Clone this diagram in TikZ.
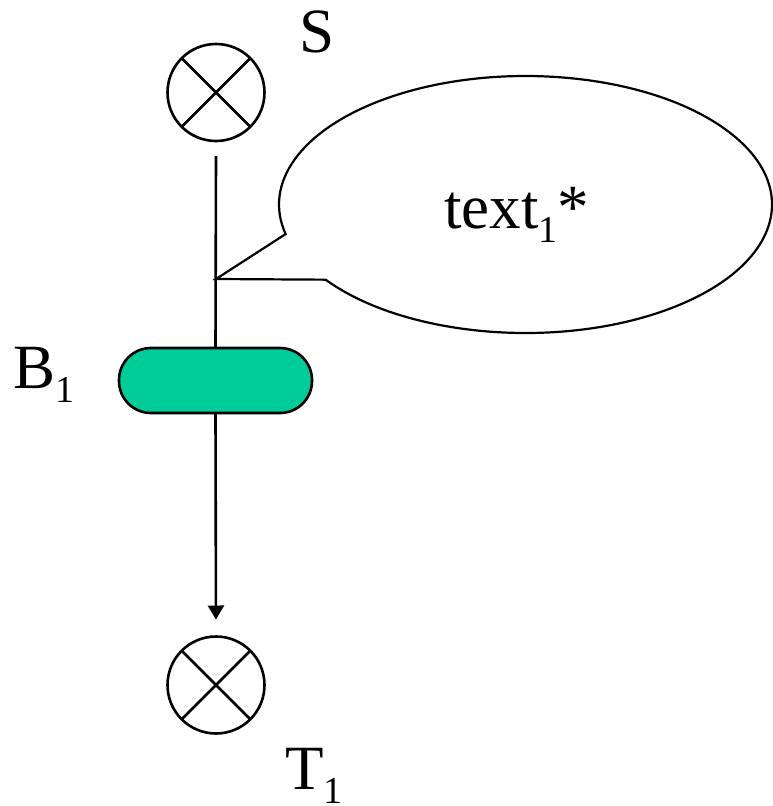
\documentclass[tikz,border=0pt]{standalone}
\usepackage{fontspec}
\setmainfont{Liberation Serif}
\usetikzlibrary{arrows.meta}

% subscript digit set in the same serif at a reduced size
\newcommand\lowone{\raisebox{-14pt}{\fontsize{38}{40}\selectfont 1}}

\begin{document}
\begin{tikzpicture}[x=1pt,y=-1pt,line width=2.6pt,
  xcirc/.style={circle,draw,minimum size=97pt,inner sep=0pt,outer sep=0pt},
  blockbox/.style={draw,fill=boxgreen,rectangle,rounded corners=32pt,
    minimum width=193pt,minimum height=65pt,inner sep=0pt,outer sep=0pt},
  lbl/.style={inner sep=0pt,font=\fontsize{63}{70}\selectfont}]
  \definecolor{boxgreen}{RGB}{0,204,153}
  \useasboundingbox (0,0) rectangle (773,806);

  % source and sink points
  \node[xcirc] (S) at (216,92.5) {};
  \draw (S.north west) -- (S.south east) (S.north east) -- (S.south west);
  \node[xcirc] (T) at (216,685) {};
  \draw (T.north west) -- (T.south east) (T.north east) -- (T.south west);

  % block
  \node[blockbox] (B) at (215.5,380.5) {};

  % connections
  \draw ([yshift=-15pt]S.south) -- (B.north);
  \draw[-{Triangle[length=14pt,width=16pt]}, shorten >=17pt] (B.south) -- (T.north);

  % speech bubble attached to the line
  \coordinate (tip) at (216,279);
  \draw[line width=2.2pt, shift={(525.5,204.5)}]
    (215.8:246.5pt and 128.5pt)
    arc[start angle=215.8, end angle=553.3, x radius=246.5pt, y radius=128.5pt]
    -- (tip) -- cycle;
  \node[lbl,anchor=base] (txt) at (516.5,228) {text\lowone*};

  % labels
  \node[lbl,anchor=base] (Slbl) at (317.5,52) {S};
  \node[lbl,anchor=base west] (Blbl) at (12,388) {B\lowone};
  \node[lbl,anchor=base west] (Tlbl) at (284,789) {T\lowone};
\end{tikzpicture}
\end{document}
